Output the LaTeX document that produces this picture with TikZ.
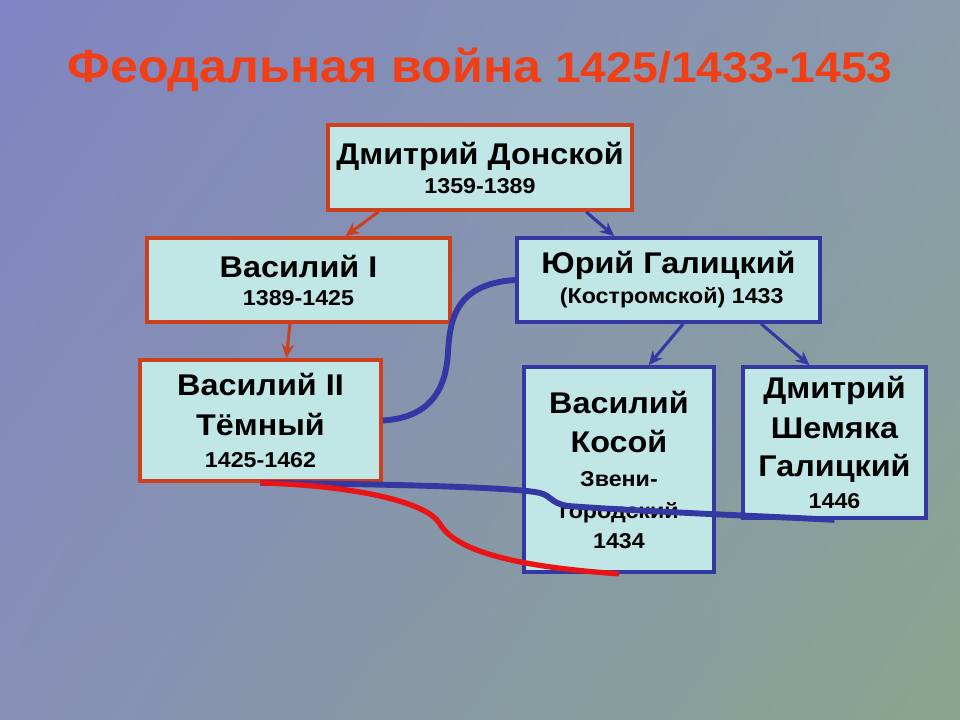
\documentclass[tikz,border=0pt]{standalone}
\usepackage{fontspec}
\setmainfont{Liberation Sans}[FakeStretch=1.08]
\usetikzlibrary{arrows.meta,calc,shadings}
\definecolor{bgtl}{RGB}{128,132,194}
\definecolor{bgtr}{RGB}{138,156,172}
\definecolor{bgbl}{RGB}{134,144,182}
\definecolor{bgbr}{RGB}{136,166,142}
\definecolor{titlered}{RGB}{242,62,20}
\definecolor{boxfill}{RGB}{192,230,230}
\definecolor{redline}{RGB}{204,64,30}
\definecolor{blueline}{RGB}{52,56,162}
\definecolor{kinred}{RGB}{232,20,22}

\begin{document}
\begin{tikzpicture}[x=0.025cm,y=-0.025cm,style=thick]
\newcommand{\namef}{\fontsize{21.3}{28.4}\selectfont\bfseries}
\newcommand{\datef}{\fontsize{15.3}{20}\selectfont\bfseries}
\tikzstyle{person}=[draw,line width=2.6pt,fill=boxfill,inner sep=0pt,align=center,font=\namef]
\tikzstyle{redbox}=[person,draw=redline]
\tikzstyle{bluebox}=[person,draw=blueline]
\tikzstyle{redarrow}=[draw=redline,line width=2.2pt,-{Stealth[length=10pt,width=9pt]}]
\tikzstyle{bluearrow}=[draw=blueline,line width=2.2pt,-{Stealth[length=10pt,width=9pt]}]
\shade[upper left=bgtl,upper right=bgtr,lower left=bgbl,lower right=bgbr] (0,0) rectangle (960,720);
% title
\node[text=titlered,font=\bfseries] (title) at (480,70)
  {\fontsize{33}{40}\selectfont Феодальная война \fontsize{30.5}{40}\selectfont 1425/1433-1453};
% persons
\node[redbox,minimum width=7.6cm,minimum height=2.125cm] (donskoy) at (480,167.5)
  {Дмитрий Донской\\[-7.8pt]{\datef 1359-1389}};
\node[redbox,minimum width=7.575cm,minimum height=2.1cm] (vasily1) at (298.5,280)
  {Василий I\\[-8.5pt]{\datef 1389-1425}};
\node[bluebox,minimum width=7.575cm,minimum height=2.1cm] (yury) at (668.5,280)
  {Юрий Галицкий\\[-7pt]{\datef\ (Костромской) 1433}};
\node[redbox,minimum width=6.025cm,minimum height=3.025cm] (vasily2) at (260.5,420.5)
  {Василий II\\Тёмный\\[-5.6pt]{\datef 1425-1462}};
\node[bluebox,minimum width=4.75cm,minimum height=5.125cm] (kosoy) at (619,469.5)
  {Василий\\Косой\\[-4.9pt]{\datef Звени-}\\[-5.6pt]{\datef городский}\\[-7.1pt]{\datef 1434}};
\node[bluebox,minimum width=4.575cm,minimum height=3.775cm] (shemyaka) at (834.5,442.5)
  {Дмитрий\\ Шемяка\\[-1.4pt]Галицкий\\[-5.6pt]{\datef 1446}};
% descent
\draw[redarrow] ($(donskoy.south west)!0.17!(donskoy.south east)$) -- ($(vasily1.north west)!0.653!(vasily1.north east)$);
\draw[bluearrow] ($(donskoy.south west)!0.845!(donskoy.south east)$) -- ($(yury.north west)!0.323!(yury.north east)$);
\draw[redarrow] ($(vasily1.south west)!0.472!(vasily1.south east)$) -- ($(vasily2.north west)!0.606!(vasily2.north east)$);
\draw[bluearrow] ($(yury.south west)!0.548!(yury.south east)$) -- ($(kosoy.north west)!0.653!(kosoy.north east)$);
\draw[bluearrow] ($(yury.south west)!0.802!(yury.south east)$) -- ($(shemyaka.north west)!0.366!(shemyaka.north east)$);
% struggle
\draw[blueline,line width=4.2pt] (yury.west) .. controls (455,284) and (450,320) .. (448,352)
  .. controls (446,395) and (425,418) .. (vasily2.east);
\draw[blueline,line width=4.2pt] (vasily2.south) .. controls (380,484) and (515,487) .. (540,493)
  .. controls (552,496) and (550,503) .. (568,506) .. controls (650,512) and (760,516) .. (shemyaka.south);
\draw[kinred,line width=3.8pt] (vasily2.south) .. controls (360,486) and (428,503) .. (440,524)
  .. controls (456,552) and (520,567) .. (kosoy.south);
\end{tikzpicture}
\end{document}
